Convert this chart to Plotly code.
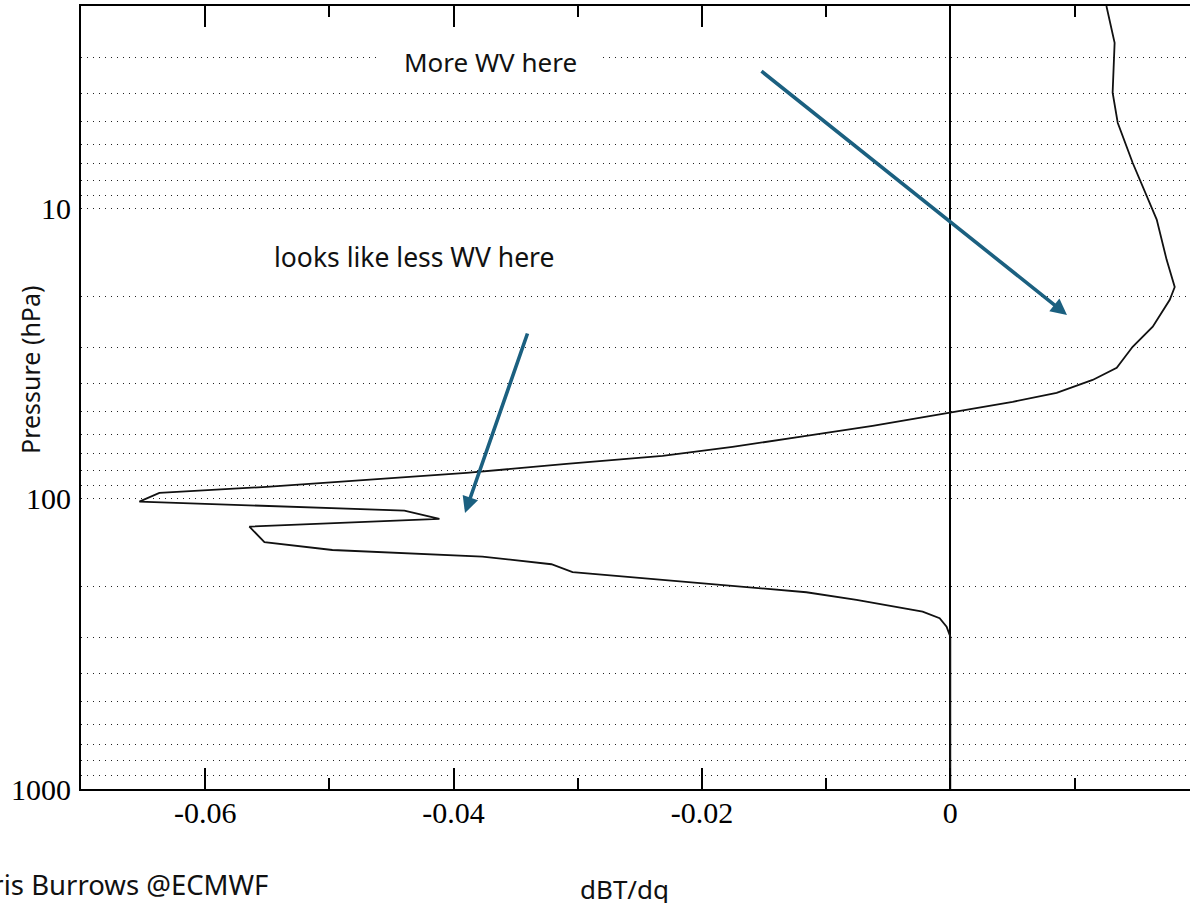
import plotly.graph_objects as go
import math

# ---- data ----
pressure_hpa = [2.0, 2.68, 3.98, 5.05, 6.94, 9.09, 10.9, 15.0, 18.6, 20.6, 25.5, 29.9, 35.3,
                38.9, 43.1, 46.3, 50.5, 56.0, 61.1, 66.2, 71.1, 75.7, 81.4, 84.6, 90.9,
                95.3, 102.2, 109.7, 117.2, 124.6, 141.0, 150.0, 158.1, 168.0, 178.9,
                209.8, 223.0, 244.7, 257.9, 275.6, 298.5, 1000.0]
dbt_dq = [0.01257, 0.01323, 0.01307, 0.01348, 0.01468, 0.01581, 0.01662, 0.01742, 0.01807,
          0.01767, 0.01630, 0.01468, 0.01340, 0.01146, 0.00856, 0.00502, 0.0, -0.00626,
          -0.01214, -0.01754, -0.02317, -0.03091, -0.03896, -0.04436, -0.05507, -0.06369,
          -0.0653, -0.04396, -0.04114, -0.05644, -0.05523, -0.04976, -0.03768, -0.03212,
          -0.03042, -0.01159, -0.00755, -0.00223, -0.00086, -0.0003, 0.0, 0.0]

x_tickvals = [-0.06, -0.04, -0.02, 0]
x_ticktext = ["-0.06", "-0.04", "-0.02", "0"]
y_tickvals = [2, 3, 4, 5, 6, 7, 8, 9, 10, 20, 30, 40, 50, 60, 70, 80, 90, 100,
              200, 300, 400, 500, 600, 700, 800, 900, 1000]
y_ticktext = ["" if v not in (10, 100, 1000) else str(v) for v in y_tickvals]

x_range = [-0.0700, 0.0193]
p_top, p_bottom = 2.0, 1000.0

W, H = 1190, 903
ML, MR, MT, MB = 81, 0, 6, 114
PW, PH = W - ML - MR, H - MT - MB


def px(xp):
    return (xp - ML) / PW


def py(yp):
    return (H - MB - yp) / PH


sans = "Noto Sans"
serif = "Liberation Serif, Times New Roman, DejaVu Serif, serif"
arrow_col = "#1b6080"

fig = go.Figure()
fig.add_trace(go.Scatter(x=dbt_dq, y=pressure_hpa, mode="lines",
                         line=dict(color="#111111", width=1.8), showlegend=False,
                         hoverinfo="skip"))

annotations = [
    dict(text="More WV here", x=px(490), y=py(62), xref="paper", yref="paper",
         showarrow=False, font=dict(family=sans, size=26, color="#111111"),
         bgcolor="white", width=221, align="center", xanchor="center", yanchor="middle"),
    dict(text="looks like less WV here", x=px(413.5), y=py(257), xref="paper", yref="paper",
         showarrow=False, font=dict(family=sans, size=26.5, color="#111111"),
         xanchor="center", yanchor="middle"),
    dict(text="Pressure (hPa)", x=px(30), y=py(370), xref="paper", yref="paper",
         showarrow=False, textangle=-90, font=dict(family=sans, size=25, color="#111111"),
         xanchor="center", yanchor="middle"),
    dict(text="dBT/dq", x=px(624), y=py(889), xref="paper", yref="paper",
         showarrow=False, font=dict(family=sans, size=26, color="#111111"),
         xanchor="center", yanchor="middle"),
    dict(text="Chris Burrows @ECMWF", x=px(270), y=py(885), xref="paper", yref="paper",
         showarrow=False, font=dict(family=sans, size=27.5, color="#111111"),
         xanchor="right", yanchor="middle"),
    dict(text="", x=px(1067), y=py(315), xref="paper", yref="paper", showarrow=True,
         ax=760 - 1067, ay=70 - 315, arrowhead=2, arrowsize=0.9, arrowwidth=3.6,
         arrowcolor=arrow_col),
    dict(text="", x=px(465), y=py(513), xref="paper", yref="paper", showarrow=True,
         ax=528 - 465, ay=332 - 513, arrowhead=2, arrowsize=0.9, arrowwidth=3.6,
         arrowcolor=arrow_col),
]

fig.update_layout(
    width=W, height=H,
    margin=dict(l=ML, r=MR, t=MT, b=MB, pad=0),
    paper_bgcolor="white", plot_bgcolor="white",
    showlegend=False,
    annotations=annotations,
    xaxis=dict(range=x_range, tickvals=x_tickvals, ticktext=x_ticktext,
               ticks="inside", ticklen=21, tickwidth=1.5, tickcolor="black",
               minor=dict(ticks="inside", ticklen=11, tickwidth=1.5, tickcolor="black",
                          dtick=0.01, tick0=0, showgrid=False),
               showgrid=False, showline=True, linecolor="black", linewidth=2,
               mirror="allticks", zeroline=True, zerolinecolor="black", zerolinewidth=1.6,
               tickfont=dict(family=serif, size=30, color="black"),
               ticklabelstandoff=-4),
    yaxis=dict(type="log", range=[math.log10(p_bottom), math.log10(p_top)],
               tickvals=y_tickvals, ticktext=y_ticktext, ticks="",
               showgrid=True, gridcolor="#222222", gridwidth=1.3, griddash="1.3px,4.7px",
               showline=True, linecolor="black", linewidth=2, mirror=False,
               zeroline=False,
               tickfont=dict(family=serif, size=30, color="black"),
               ticklabelstandoff=2),
)

fig.write_html("out.html", config={"displayModeBar": False},
               post_script="document.body.style.margin='0';")
